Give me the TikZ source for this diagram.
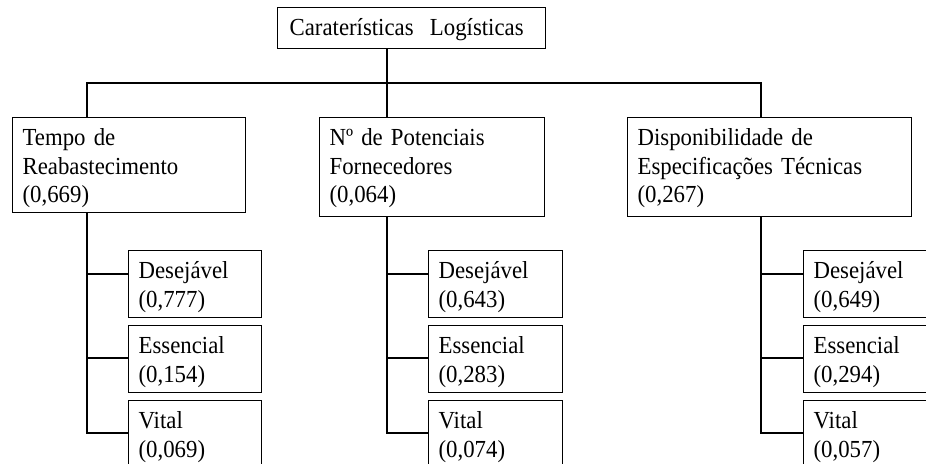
\documentclass[tikz,border=0pt]{standalone}
\usepackage{fontspec}
\setmainfont{Liberation Serif}[FakeStretch=0.93]
% struts fixing the first baseline and the space under the last line
\newcommand\firstline{\rule{0pt}{28pt}}
\newcommand\lastdepth[1]{\rule[-#1pt]{0pt}{#1pt}}
\begin{document}
\begin{tikzpicture}[x=1pt,y=-1pt,
  box/.style={draw, line width=1.3pt, anchor=north west, inner xsep=10pt,
    inner ysep=0pt, align=left, font=\fontsize{24.5}{28.5}\selectfont},
  link/.style={line width=1.3pt}]
\useasboundingbox[fill=white] (0,0) rectangle (926,463);
\clip (0,0) rectangle (926,463);

% root
\node[box, inner xsep=12pt, text width=244pt] (root) at (277,7)
  {\firstline Caraterísticas\ \ Logísticas\lastdepth{13}};

% criteria
\node[box, text width=213pt] (tr) at (12,117)
  {\firstline Tempo de\\Reabastecimento\\(0,669)\lastdepth{10}};
\node[box, text width=205pt] (pf) at (319,117)
  {\firstline Nº de Potenciais\\Fornecedores\\(0,064)\lastdepth{14}};
\node[box, text width=264pt] (et) at (627,117)
  {\firstline Disponibilidade de\\Especificações Técnicas\\(0,267)\lastdepth{14}};

% alternatives under each criterion
\node[box, text width=113pt] (trD) at (128,250) {\firstline Desejável\\(0,777)\lastdepth{10.5}};
\node[box, text width=113pt] (trE) at (128,325) {\firstline Essencial\\(0,154)\lastdepth{10.5}};
\node[box, text width=113pt] (trV) at (128,400) {\firstline Vital\\(0,069)\lastdepth{10.5}};

\node[box, text width=114pt] (pfD) at (428,250) {\firstline Desejável\\(0,643)\lastdepth{10.5}};
\node[box, text width=114pt] (pfE) at (428,325) {\firstline Essencial\\(0,283)\lastdepth{10.5}};
\node[box, text width=114pt] (pfV) at (428,400) {\firstline Vital\\(0,074)\lastdepth{10.5}};

\node[box, text width=114pt] (etD) at (803,250) {\firstline Desejável\\(0,649)\lastdepth{10.5}};
\node[box, text width=114pt] (etE) at (803,325) {\firstline Essencial\\(0,294)\lastdepth{10.5}};
\node[box, text width=114pt] (etV) at (803,400) {\firstline Vital\\(0,057)\lastdepth{10.5}};

% spine positions
\coordinate (sL) at (87,83);
\coordinate (sM) at (387,83);
\coordinate (sR) at (761,83);

% top level connectors
\draw[link] (root.south -| sM) -- (pf.north -| sM);
\draw[link] (tr.north -| sL) -- (sL) -- (sR) -- (et.north -| sR);

% branch levels
\coordinate (b1) at (0,274);
\coordinate (b2) at (0,358);
\coordinate (b3) at (0,433);

\foreach \p/\s in {tr/sL, pf/sM, et/sR} {
  \draw[link] (\p.south -| \s) -- (\s |- b3) -- (\p V.west |- b3);
  \draw[link] (\s |- b1) -- (\p D.west |- b1);
  \draw[link] (\s |- b2) -- (\p E.west |- b2);
}
\end{tikzpicture}
\end{document}
